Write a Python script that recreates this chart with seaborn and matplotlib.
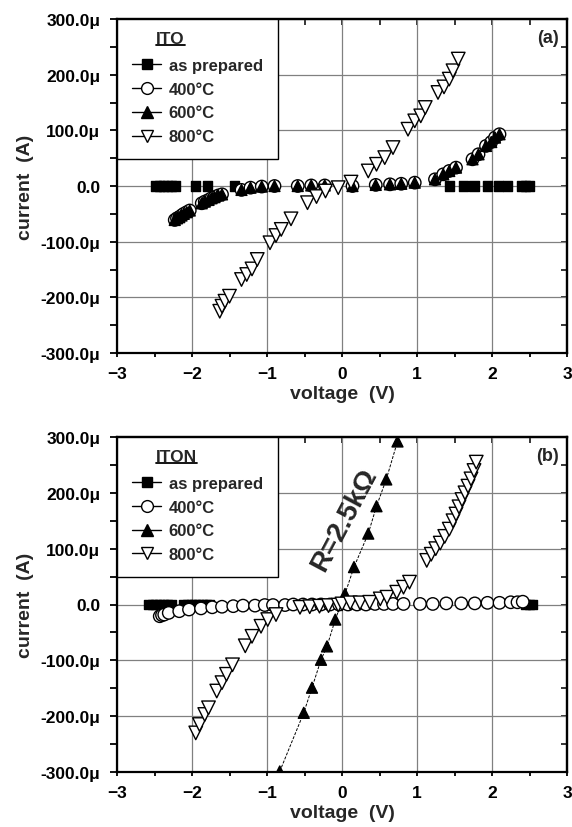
import pandas as pd
import seaborn as sns
import matplotlib.pyplot as plt
import matplotlib.ticker as mticker
from matplotlib.lines import Line2D

sns.set_theme(style="ticks")
plt.rcParams['font.family'] = ['Liberation Sans', 'DejaVu Sans']
plt.rcParams['font.weight'] = 'bold'

series = ["as prepared", "400°C", "600°C", "800°C"]

# ---- panel (a): ITO, current in uA
ito_asp_v = [-2.48, -2.43, -2.38, -2.33, -2.27, -2.22, -1.95, -1.79, -1.43,
             1.43, 1.62, 1.76, 1.94, 2.09, 2.21, 2.39, 2.45, 2.5]
ito_asp_i = [0, 0, 0, 0, 0, 0, 0, 0, 0, 0, 0, 0, 0, 0, 0, 0, 0, 0]

ito_400_v = [-2.23, -2.2, -2.17, -2.14, -2.11, -2.07, -2.03, -1.87, -1.83, -1.78,
             -1.74, -1.7, -1.65, -1.6, -1.34, -1.22, -1.07, -0.9, -0.59, -0.41,
             -0.23, 0.14, 0.45, 0.64, 0.79, 0.97, 1.24, 1.35, 1.43, 1.52,
             1.74, 1.82, 1.92, 1.99, 2.04, 2.1]
ito_400_i = [-61, -58, -56, -53, -50, -47, -44, -31, -28, -25,
             -22, -20, -17, -15, -7, -3, -1, 0, 0, 1,
             1, 0, 2, 3, 4, 6, 12, 21, 27, 33,
             48, 57, 72, 79, 87, 93]
# 600°C lies on top of 400°C in the ITO film
ito_600_v = ito_400_v
ito_600_i = ito_400_i

ito_800_v = [-1.63, -1.6, -1.56, -1.5, -1.34, -1.27, -1.2, -1.13, -0.96, -0.88,
             -0.81, -0.68, -0.46, -0.34, -0.22, -0.05, 0.12, 0.35, 0.46, 0.57,
             0.68, 0.88, 0.97, 1.05, 1.11, 1.28, 1.36, 1.43, 1.48, 1.55]
ito_800_i = [-225, -216, -207, -198, -168, -159, -149, -132, -102, -89,
             -78, -59, -30, -19, -9, -3, 7, 27, 39, 51,
             69, 102, 117, 126, 141, 168, 178, 192, 207, 228]

# ---- panel (b): ITON
iton_asp_v = [-2.58, -2.53, -2.48, -2.43, -2.38, -2.33, -2.28, -2.11, -2.06, -2.01,
              -1.96, -1.91, -1.86, -1.81, -1.77, 2.45, 2.5, 2.54]
iton_asp_i = [0, 0, 0, 0, 0, 0, 0, 0, 0, 0, 0, 0, 0, 0, 0, 0, 0, 0]

iton_400_v = [-2.43, -2.4, -2.37, -2.31, -2.17, -2.04, -1.88, -1.73, -1.6, -1.45,
              -1.32, -1.16, -1.03, -0.92, -0.76, -0.65, -0.52, -0.4, -0.28, -0.16,
              -0.04, 0.08, 0.2, 0.32, 0.44, 0.56, 0.68, 0.82, 1.04, 1.21,
              1.39, 1.59, 1.77, 1.94, 2.1, 2.25, 2.34, 2.41]
iton_400_i = [-21, -19, -18, -15, -12, -9, -7, -5, -4, -3,
              -2, -2, -1, -1, -1, 0, 0, 0, 0, 0,
              0, 0, 0, 0, 1, 1, 1, 1, 1, 1,
              2, 2, 2, 3, 3, 4, 4, 5]

iton_600_v = [-0.83, -0.51, -0.4, -0.28, -0.2, -0.09, 0.04, 0.16, 0.35, 0.46, 0.59, 0.74]
iton_600_i = [-299, -194, -149, -99, -75, -27, 19, 67, 127, 176, 224, 292]

iton_800_v = [-1.95, -1.9, -1.83, -1.78, -1.67, -1.6, -1.54, -1.46, -1.29, -1.2,
              -1.08, -0.99, -0.88, -0.56, -0.43, -0.3, -0.18, -0.05, 0.0, 0.11,
              0.24, 0.37, 0.51, 0.6, 0.73, 0.82, 0.9, 1.13, 1.19, 1.25,
              1.31, 1.37, 1.43, 1.48, 1.52, 1.56, 1.6, 1.64, 1.68, 1.72,
              1.76, 1.79]
iton_800_i = [-230, -215, -197, -185, -155, -140, -125, -108, -74, -57,
              -39, -27, -18, -5, -4, -3, -2, -1, 1, 3,
              3, 4, 10, 13, 22, 31, 40, 79, 90, 100,
              110, 122, 135, 150, 162, 175, 188, 200, 212, 225,
              240, 255]

markers = {"as prepared": "s", "400°C": "o", "600°C": "^", "800°C": "v"}
palette = {"as prepared": "black", "400°C": "white", "600°C": "black", "800°C": "white"}
sizes = {"as prepared": 46, "400°C": 80, "600°C": 62, "800°C": 95}
leg_ms = {"as prepared": 7, "400°C": 8.5, "600°C": 8, "800°C": 8.5}


def fmt_current(v, pos):
    if abs(v) < 1e-9:
        return "0.0"
    return f"{v:.1f}\u03bc"


def draw_panel(ax, data, name, tag):
    frames = []
    for s in series:
        v, i = data[s]
        frames.append(pd.DataFrame({"voltage": v, "current": i, "series": s}))
    df = pd.concat(frames, ignore_index=True)

    sns.scatterplot(data=df, x="voltage", y="current", hue="series", style="series",
                    size="series", palette=palette, markers=markers, sizes=sizes,
                    edgecolor="black", linewidth=1.0, legend=False, ax=ax, zorder=3)

    ax.set_xlim(-3, 3)
    ax.set_ylim(-300, 300)
    ax.xaxis.set_major_locator(mticker.MultipleLocator(1))
    ax.xaxis.set_minor_locator(mticker.MultipleLocator(0.5))
    ax.yaxis.set_major_locator(mticker.MultipleLocator(100))
    ax.yaxis.set_minor_locator(mticker.MultipleLocator(50))
    ax.yaxis.set_major_formatter(mticker.FuncFormatter(fmt_current))
    ax.grid(True, which="major", color="0.5", lw=0.9)
    ax.set_axisbelow(True)
    for sp in ax.spines.values():
        sp.set_linewidth(1.6)
        sp.set_color("black")
    ax.tick_params(axis="x", which="both", direction="out", length=3, width=1.3,
                   pad=6.5, labelsize=12.5, colors="black")
    ax.tick_params(axis="y", which="both", direction="out", length=5, width=1.3,
                   pad=7, labelsize=12.5, colors="black")

    top = ax.secondary_xaxis("top")
    top.xaxis.set_major_locator(mticker.MultipleLocator(0.5))
    top.tick_params(direction="in", length=4, width=1.3, labeltop=False)
    top.spines["top"].set_linewidth(1.6)
    right = ax.secondary_yaxis("right")
    right.yaxis.set_major_locator(mticker.MultipleLocator(50))
    right.tick_params(direction="in", length=4, width=1.3, labelright=False)
    right.spines["right"].set_linewidth(1.6)

    ax.set_xlabel("voltage  (V)", fontsize=14, fontweight="bold", labelpad=3)
    ax.set_ylabel("current  (A)", fontsize=14, fontweight="bold", labelpad=5)
    ax.text(0.982, 0.97, tag, transform=ax.transAxes, ha="right", va="top",
            fontsize=13, fontweight="bold")

    handles = [Line2D([0], [0], color="black", lw=1, marker=markers[s],
                      markersize=leg_ms[s], markerfacecolor=palette[s],
                      markeredgecolor="black", markeredgewidth=1.0) for s in series]
    leg = ax.legend(handles, series, title=name, loc="upper left",
                    bbox_to_anchor=(0, 1), borderaxespad=0, frameon=True,
                    fancybox=False, edgecolor="black", framealpha=1,
                    prop={"size": 12, "weight": "bold"},
                    title_fontproperties={"size": 12.5, "weight": "bold"},
                    handlelength=1.75, handletextpad=0.45, borderpad=0.9,
                    labelspacing=0.53, alignment="left")
    leg.get_frame().set_linewidth(1.0)
    leg.get_title().set_position((24, 3))
    leg.set_zorder(5)
    return leg


fig = plt.figure(figsize=(5.72, 8.28), dpi=100)
ax1 = fig.add_axes([117 / 572, (828 - 354) / 828, 450 / 572, (354 - 20) / 828])
ax2 = fig.add_axes([117 / 572, (828 - 773) / 828, 450 / 572, (773 - 438) / 828])

leg1 = draw_panel(ax1, {"as prepared": (ito_asp_v, ito_asp_i),
                        "400°C": (ito_400_v, ito_400_i),
                        "600°C": (ito_600_v, ito_600_i),
                        "800°C": (ito_800_v, ito_800_i)}, "ITO", "(a)")

# dashed fit line through the 600°C ITON points
sns.lineplot(x=iton_600_v, y=iton_600_i, sort=False, estimator=None, color="black",
             lw=0.7, linestyle=(0, (3, 1.5)), ax=ax2, zorder=2)
leg2 = draw_panel(ax2, {"as prepared": (iton_asp_v, iton_asp_i),
                        "400°C": (iton_400_v, iton_400_i),
                        "600°C": (iton_600_v, iton_600_i),
                        "800°C": (iton_800_v, iton_800_i)}, "ITON", "(b)")
ax2.text(0.03, 153, "R=2.5k\u03a9", rotation=62, ha="center", va="center",
         fontsize=20, fontweight="bold", zorder=4)

# underline the legend titles
fig.canvas.draw()
inv = fig.transFigure.inverted()
for leg in (leg1, leg2):
    bb = leg.get_title().get_window_extent()
    (x0, y0), (x1, _) = inv.transform([(bb.x0, bb.y0 + 1), (bb.x1, bb.y0 + 1)])
    fig.add_artist(Line2D([x0, x1], [y0, y0], transform=fig.transFigure,
                          color="black", lw=1.3))

fig.savefig("out.png", dpi=100)
